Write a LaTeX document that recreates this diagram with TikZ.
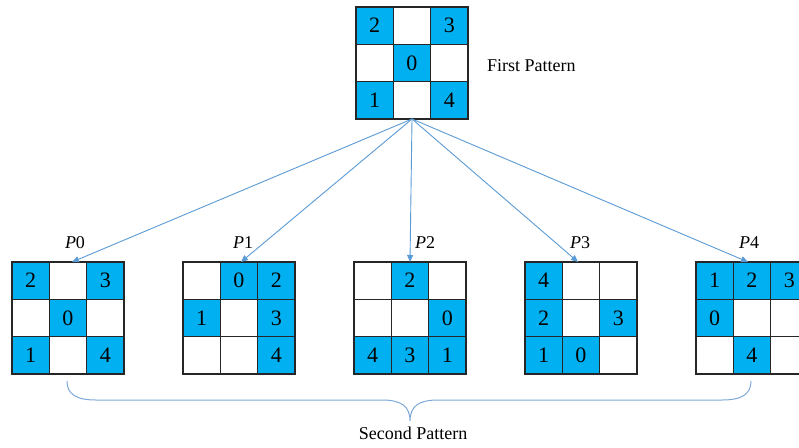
\documentclass[tikz,border=0pt]{standalone}
\usepackage{fontspec}
\setmainfont{Liberation Serif}
\usetikzlibrary{arrows.meta}
\definecolor{cellblue}{HTML}{00B0F0}
\definecolor{arrowblue}{HTML}{5B9BD5}
\definecolor{braceblue}{HTML}{7FA9D9}
\definecolor{gridline}{HTML}{262626}
\tikzset{
  cellbase/.style={draw=gridline, line width=1.2pt, minimum width=37.3pt, minimum height=37.3pt,
    inner sep=0pt, font=\fontsize{22}{24}\selectfont, text=black},
  cellc/.style={cellbase, fill=cellblue},
  cellw/.style={cellbase, fill=white},
  conn/.style={draw=arrowblue, line width=0.9pt, -{Triangle[length=7pt,width=6pt]}},
  plabel/.style={font=\fontsize{18}{20}\selectfont, inner sep=0pt},
  caption/.style={font=\fontsize{18}{20}\selectfont, inner sep=0pt},
}
\newcommand\patgrid[4]{%
  \foreach \v/\f [count=\i from 0] in {#4} {
    \pgfmathtruncatemacro\rr{int(\i/3)}
    \pgfmathtruncatemacro\cc{mod(\i,3)}
    \node[\f] (#1-\i) at ({#2+(\cc+0.5)*37.3},{#3+(\rr+0.5)*37.3}) {\v};
  }%
}
\begin{document}
\begin{tikzpicture}[x=1pt,y=-1pt]
\useasboundingbox (0,0) rectangle (799,447);
\clip (0,0) rectangle (799,447);
\fill[white] (0,0) rectangle (799,447);

% first pattern
\patgrid{top}{356}{7}{2/cellc, /cellw, 3/cellc, /cellw, 0/cellc, /cellw, 1/cellc, /cellw, 4/cellc}
\node[caption, anchor=west] (first) at (487,66) {First Pattern};

% second patterns
\patgrid{pa}{12}{262}{2/cellc, /cellw, 3/cellc, /cellw, 0/cellc, /cellw, 1/cellc, /cellw, 4/cellc}
\patgrid{pb}{183}{262}{/cellw, 0/cellc, 2/cellc, 1/cellc, /cellw, 3/cellc, /cellw, /cellw, 4/cellc}
\patgrid{pc}{354}{262}{/cellw, 2/cellc, /cellw, /cellw, /cellw, 0/cellc, 4/cellc, 3/cellc, 1/cellc}
\patgrid{pd}{525}{262}{4/cellc, /cellw, /cellw, 2/cellc, /cellw, 3/cellc, 1/cellc, 0/cellc, /cellw}
\patgrid{pe}{696}{262}{1/cellc, 2/cellc, 3/cellc, 0/cellc, /cellw, /cellw, /cellw, 4/cellc, /cellw}

% labels
\node[plabel] (l0) at (75,243) {\textit{P}0};
\node[plabel] (l1) at (243,243) {\textit{P}1};
\node[plabel] (l2) at (425,243) {\textit{P}2};
\node[plabel] (l3) at (580,243) {\textit{P}3};
\node[plabel] (l4) at (749,243) {\textit{P}4};

% connectors
\coordinate (src) at (412,119);
\coordinate (t0) at (72,262);
\coordinate (t1) at (241,262);
\coordinate (t2) at (410,262);
\coordinate (t3) at (578,262);
\coordinate (t4) at (748,262);
\foreach \k in {0,...,4} { \draw[conn] (src) -- (t\k); }

% brace
\coordinate (bl) at (67,381);
\coordinate (br) at (751,381);
\coordinate (btip) at (410,421);
\draw[braceblue, line width=1pt]
  (bl) .. controls (67,394) and (76,400) .. (96,400) -- (382,400)
  .. controls (401,400) and (410,406) .. (btip)
  .. controls (410,406) and (419,400) .. (438,400) -- (722,400)
  .. controls (742,400) and (751,394) .. (br);
\node[caption] (second) at (413,433) {Second Pattern};
\end{tikzpicture}
\end{document}
